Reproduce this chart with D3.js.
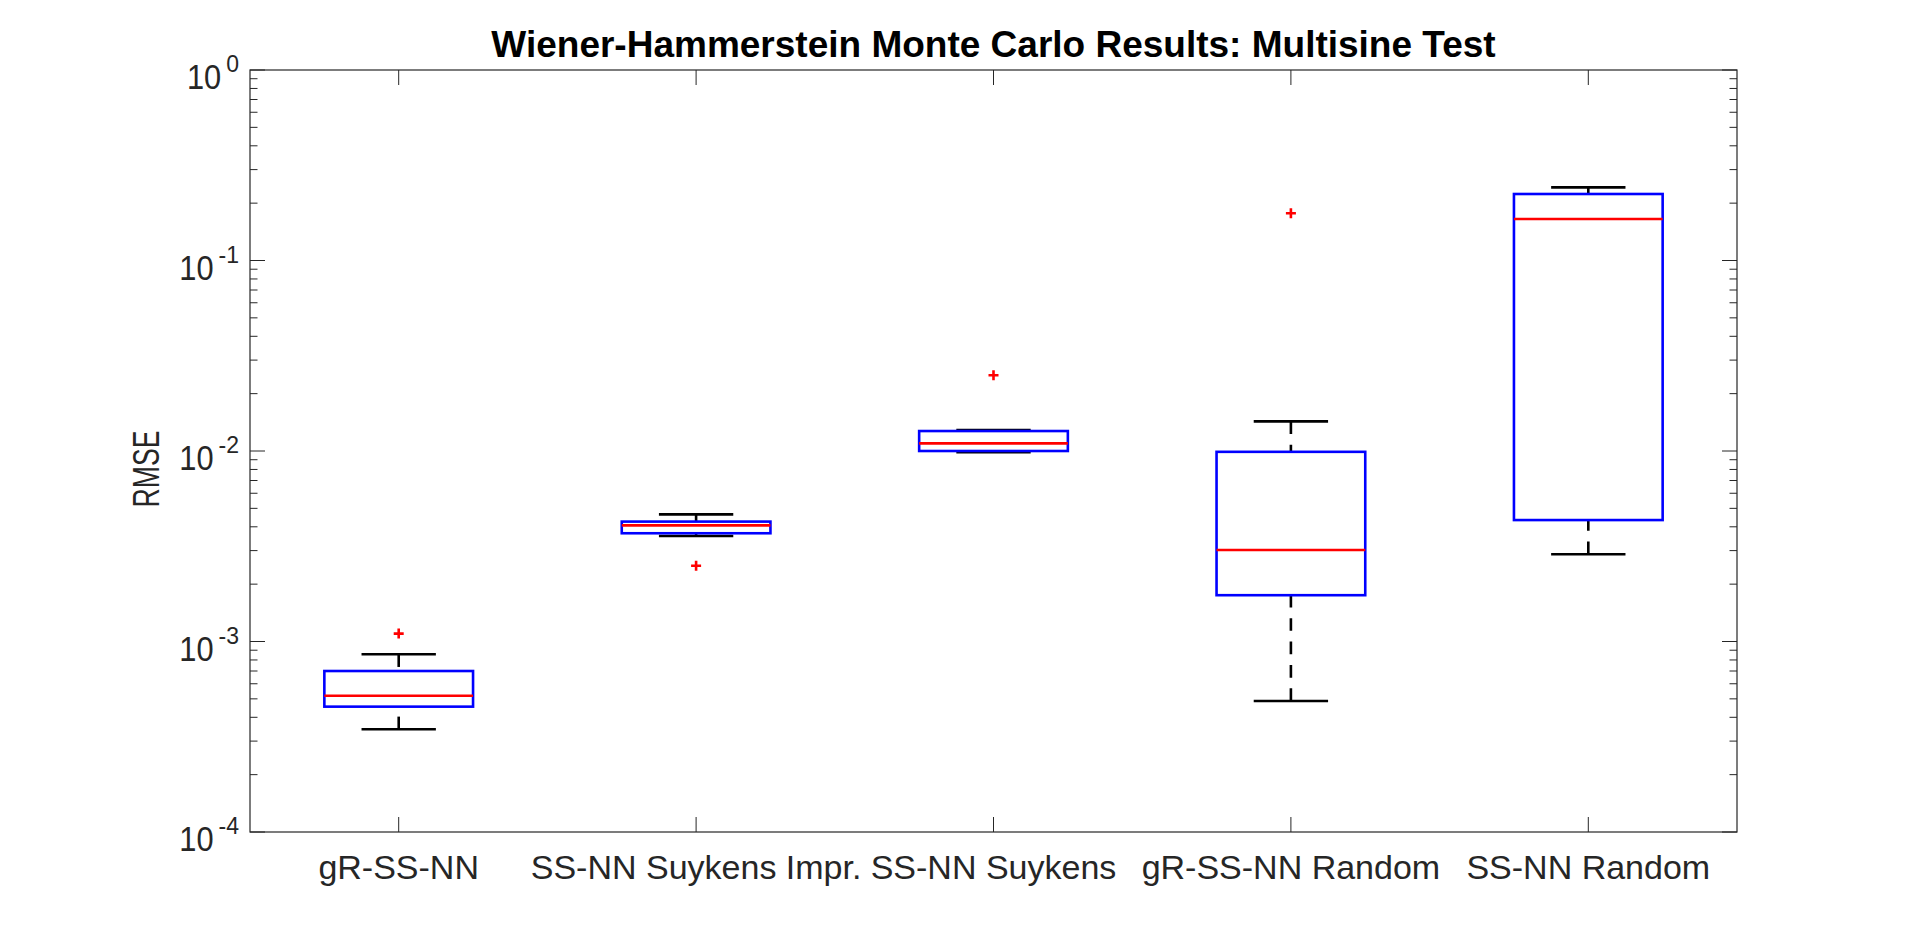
<!DOCTYPE html>
<html>
<head>
<meta charset="utf-8">
<script src="https://cdn.jsdelivr.net/npm/d3@7/dist/d3.min.js"></script>
<style>
  html, body { margin: 0; padding: 0; background: #fff; }
  svg { display: block; }
  text { font-family: "Liberation Sans", Arial, Helvetica, sans-serif; }
</style>
</head>
<body>
<svg id="chart" width="1920" height="936"></svg>
<script>
const categories = ["gR-SS-NN", "SS-NN Suykens Impr.", "SS-NN Suykens", "gR-SS-NN Random", "SS-NN Random"];
const whiskerLow  = [3.46e-4, 3.58e-3, 9.85e-3, 4.87e-4, 2.87e-3];
const q1Values    = [4.55e-4, 3.70e-3, 1.00e-2, 1.75e-3, 4.34e-3];
const medianValues= [5.19e-4, 4.07e-3, 1.097e-2, 3.02e-3, 0.165];
const q3Values    = [7.00e-4, 4.26e-3, 1.273e-2, 9.90e-3, 0.2234];
const whiskerHigh = [8.57e-4, 4.65e-3, 1.289e-2, 1.43e-2, 0.242];
const outliers    = [[1.10e-3], [2.50e-3], [0.025], [0.177], []];
const yTickValues = [1e-4, 1e-3, 1e-2, 1e-1, 1];
const yTickExponents = ["-4", "-3", "-2", "-1", "0"];
const titleText = "Wiener-Hammerstein Monte Carlo Results: Multisine Test";
const yLabelText = "RMSE";

(function () {
const svg = d3.select("#chart");
const pL = 250, pR = 1737, pT = 70, pB = 832;
const axisColor = "#262626";

const x = d3.scaleBand().domain(categories).range([pL, pR]).padding(0);
const y = d3.scaleLog().domain([1e-4, 1]).range([pB, pT]);

const bw = x.bandwidth();
const boxW = bw * 0.5;
const capW = bw * 0.25;

const minorVals = [];
for (let e = -4; e < 0; e++) for (let m = 2; m <= 9; m++) minorVals.push(m * Math.pow(10, e));

const g = svg.append("g");
g.selectAll("line.minorL").data(minorVals).enter().append("line")
  .attr("x1", pL).attr("x2", pL + 7.5)
  .attr("y1", d => y(d)).attr("y2", d => y(d))
  .attr("stroke", axisColor).attr("stroke-width", 1);
g.selectAll("line.minorR").data(minorVals).enter().append("line")
  .attr("x1", pR).attr("x2", pR - 7.5)
  .attr("y1", d => y(d)).attr("y2", d => y(d))
  .attr("stroke", axisColor).attr("stroke-width", 1);
g.selectAll("line.majL").data(yTickValues).enter().append("line")
  .attr("x1", pL).attr("x2", pL + 15)
  .attr("y1", d => y(d)).attr("y2", d => y(d))
  .attr("stroke", axisColor).attr("stroke-width", 1);
g.selectAll("line.majR").data(yTickValues).enter().append("line")
  .attr("x1", pR).attr("x2", pR - 15)
  .attr("y1", d => y(d)).attr("y2", d => y(d))
  .attr("stroke", axisColor).attr("stroke-width", 1);
g.selectAll("line.xb").data(categories).enter().append("line")
  .attr("x1", d => x(d) + bw / 2).attr("x2", d => x(d) + bw / 2)
  .attr("y1", pB).attr("y2", pB - 15)
  .attr("stroke", axisColor).attr("stroke-width", 1);
g.selectAll("line.xt").data(categories).enter().append("line")
  .attr("x1", d => x(d) + bw / 2).attr("x2", d => x(d) + bw / 2)
  .attr("y1", pT).attr("y2", pT + 15)
  .attr("stroke", axisColor).attr("stroke-width", 1);

g.append("rect").attr("x", pL).attr("y", pT).attr("width", pR - pL).attr("height", pB - pT)
  .attr("fill", "none").attr("stroke", axisColor).attr("stroke-width", 1.2);

// y tick labels: "10" + superscript exponent
const labelRight = 239;
yTickValues.forEach((v, i) => {
  const ty = y(v);
  const sup = g.append("text").attr("x", labelRight).attr("y", ty + 2)
    .attr("text-anchor", "end").attr("fill", axisColor).attr("font-size", 23)
    .text(yTickExponents[i]);
  const supW = sup.node().getComputedTextLength();
  const baseEnd = labelRight - supW - 5;
  g.append("text")
    .attr("transform", `translate(${baseEnd},${ty + 19}) scale(0.88,1)`)
    .attr("text-anchor", "end").attr("fill", axisColor).attr("font-size", 35)
    .text("10");
});

g.selectAll("text.xtl").data(categories).enter().append("text")
  .attr("x", d => x(d) + bw / 2).attr("y", 879)
  .attr("text-anchor", "middle").attr("fill", axisColor)
  .attr("font-size", 34).text(d => d);

g.append("text").attr("transform", `translate(159,469) rotate(-90) scale(0.72,1)`)
  .attr("text-anchor", "middle").attr("fill", axisColor).attr("font-size", 37).text(yLabelText);

g.append("text").attr("x", (pL + pR) / 2).attr("y", 57)
  .attr("text-anchor", "middle").attr("fill", "#000").attr("font-weight", "bold")
  .attr("font-size", 37).text(titleText);

const boxes = svg.append("g");
categories.forEach((c, i) => {
  const cx = x(c) + bw / 2;
  boxes.append("line").attr("x1", cx).attr("x2", cx)
    .attr("y1", y(whiskerHigh[i])).attr("y2", y(q3Values[i]))
    .attr("stroke", "#000").attr("stroke-width", 2.6).attr("stroke-dasharray", "12.7,10.7");
  boxes.append("line").attr("x1", cx).attr("x2", cx)
    .attr("y1", y(whiskerLow[i])).attr("y2", y(q1Values[i]))
    .attr("stroke", "#000").attr("stroke-width", 2.6).attr("stroke-dasharray", "12.7,10.7");
  [whiskerHigh[i], whiskerLow[i]].forEach(v => {
    boxes.append("line").attr("x1", cx - capW / 2).attr("x2", cx + capW / 2)
      .attr("y1", y(v)).attr("y2", y(v)).attr("stroke", "#000").attr("stroke-width", 2.6);
  });
  boxes.append("rect").attr("x", cx - boxW / 2).attr("y", y(q3Values[i]))
    .attr("width", boxW).attr("height", y(q1Values[i]) - y(q3Values[i]))
    .attr("fill", "none").attr("stroke", "#0000ff").attr("stroke-width", 2.6);
  boxes.append("line").attr("x1", cx - boxW / 2).attr("x2", cx + boxW / 2)
    .attr("y1", y(medianValues[i])).attr("y2", y(medianValues[i]))
    .attr("stroke", "#ff0000").attr("stroke-width", 2.6);
  outliers[i].forEach(v => {
    const oy = y(v);
    boxes.append("path").attr("d", `M${cx - 5},${oy}H${cx + 5}M${cx},${oy - 5}V${oy + 5}`)
      .attr("stroke", "#ff0000").attr("stroke-width", 2.6).attr("fill", "none");
  });
});
})();
</script>
</body>
</html>
